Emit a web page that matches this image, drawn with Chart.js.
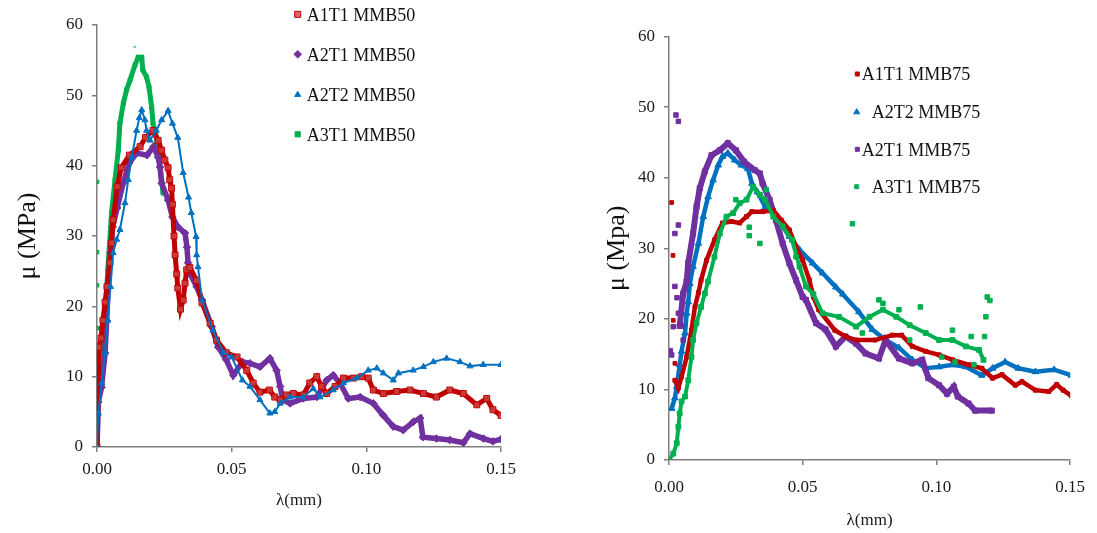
<!DOCTYPE html>
<html>
<head>
<meta charset="utf-8">
<script src="https://cdn.jsdelivr.net/npm/chart.js@4/dist/chart.umd.min.js"></script>
<style>
  body { margin: 0; background: #fff; }
  .panel { position: absolute; top: 0; }
</style>
</head>
<body>
<div class="panel" style="left:0"><canvas id="mmb50" width="560" height="533"></canvas></div>
<div class="panel" style="left:560px"><canvas id="mmb75" width="537" height="533"></canvas></div>
<script>
// axis ticks
const yTicks = [0, 10, 20, 30, 40, 50, 60];
const xTicks = [0, 0.05, 0.10, 0.15];

// ---- MMB50 (left) ----
const lam50_A1T1 = [0, 0.0007, 0.0015, 0.0022, 0.003, 0.0037, 0.0048, 0.0054, 0.006, 0.0075, 0.009, 0.012, 0.016, 0.018, 0.0208, 0.0227, 0.024, 0.0252, 0.0264, 0.027, 0.0277, 0.028, 0.0286, 0.029, 0.0296, 0.030, 0.031, 0.032, 0.0327, 0.0333, 0.0345, 0.037, 0.039, 0.042, 0.0444, 0.048, 0.052, 0.0556, 0.058, 0.0605, 0.064, 0.066, 0.068, 0.0704, 0.0729, 0.0766, 0.079, 0.0816, 0.0834, 0.0853, 0.0884, 0.0915, 0.0952, 0.0983, 0.1007, 0.1026, 0.1063, 0.1113, 0.1162, 0.1212, 0.126, 0.131, 0.136, 0.141, 0.1447, 0.147, 0.150];
const mu50_A1T1  = [0, 14.2, 15.5, 18, 20.6, 22.8, 26.2, 29, 32.3, 37, 39.7, 41.5, 42.7, 44, 45, 43.6, 42.2, 40.8, 39.7, 38, 36.8, 34.5, 30, 27.3, 24.6, 22.6, 19.6, 20.9, 23.3, 25.2, 25.5, 23.7, 20.5, 17.6, 15.2, 13.4, 12.8, 10.9, 9.1, 7.8, 8.1, 7.1, 6.7, 7.4, 7.6, 7.4, 9.1, 10, 8.6, 7.6, 8.6, 9.8, 9.8, 10, 9.8, 8.1, 7.6, 7.9, 8.1, 7.6, 7.1, 8.1, 7.6, 6, 6.9, 5.3, 4.5];

const lam50_A2T1 = [0, 0.0005, 0.0017, 0.003, 0.0036, 0.0041, 0.005, 0.0058, 0.0075, 0.0097, 0.012, 0.0147, 0.0185, 0.021, 0.0227, 0.0234, 0.024, 0.0264, 0.028, 0.030, 0.0327, 0.0334, 0.0338, 0.0345, 0.037, 0.039, 0.0426, 0.045, 0.048, 0.0506, 0.054, 0.0568, 0.0605, 0.0642, 0.0667, 0.068, 0.069, 0.0717, 0.0766, 0.0816, 0.0853, 0.0877, 0.0902, 0.0933, 0.0977, 0.1026, 0.1063, 0.110, 0.1137, 0.1175, 0.120, 0.121, 0.126, 0.131, 0.136, 0.1385, 0.1435, 0.147, 0.150];
const mu50_A2T1  = [0, 6.4, 8.5, 13.4, 18, 22.8, 27.6, 31.3, 34, 37.5, 40.4, 41.8, 41.5, 42.7, 41.2, 39.8, 37.5, 35.1, 32.7, 31.3, 30.4, 28.4, 26.2, 24.7, 22.8, 20.9, 17.1, 14.2, 12.4, 10.2, 12.1, 11.9, 11.4, 12.6, 10.9, 8.6, 6.7, 6.2, 6.9, 7.1, 9.5, 10.2, 9.1, 6.9, 7.1, 6.2, 4.5, 2.9, 2.4, 3.6, 4.1, 1.4, 1.2, 1, 0.6, 1.9, 1.2, 0.8, 1.1];

const lam50_A2T2 = [0, 0.0005, 0.0017, 0.003, 0.004, 0.005, 0.006, 0.0073, 0.0085, 0.0104, 0.0116, 0.0129, 0.0147, 0.0157, 0.0166, 0.0178, 0.0184, 0.0197, 0.022, 0.024, 0.0264, 0.028, 0.030, 0.032, 0.034, 0.035, 0.0368, 0.037, 0.0375, 0.039, 0.043, 0.047, 0.050, 0.054, 0.0568, 0.0605, 0.0642, 0.066, 0.068, 0.0717, 0.0766, 0.0803, 0.0828, 0.0877, 0.0915, 0.0964, 0.1007, 0.1039, 0.1063, 0.110, 0.1119, 0.1174, 0.1212, 0.1249, 0.1298, 0.1348, 0.1385, 0.1434, 0.150];
const mu50_A2T2  = [0, 4.8, 9.1, 13.4, 18, 22.8, 27.6, 29.5, 30.9, 34.7, 38, 41.2, 45, 46.8, 47.9, 46.5, 45, 43.6, 45, 46.5, 47.8, 46, 44, 39, 35.5, 33.3, 29.9, 27.3, 25.6, 20.9, 16.6, 13.4, 12.8, 9.5, 8.6, 6.7, 4.8, 5, 6.2, 7.1, 7.1, 8.3, 7.1, 8.1, 9.1, 9.8, 10.9, 11.2, 10.5, 9.5, 10.5, 10.9, 11.4, 12.1, 12.6, 12.1, 11.5, 11.7, 11.7];

const lam50_A3T1 = [0, 0.001, 0.002, 0.003, 0.004, 0.005, 0.0054, 0.0067, 0.0079, 0.0085, 0.0098, 0.011, 0.0123, 0.0141, 0.0153, 0.0166, 0.017, 0.0184, 0.0193, 0.0203, 0.0208, 0.022, 0.024, 0.0245];
const mu50_A3T1  = [7.5, 10, 12, 18, 25.2, 30.9, 33.3, 38, 42.2, 46, 48.9, 50.8, 52.2, 54.3, 55.4, 55.4, 53.6, 52.6, 51.2, 48.3, 46, 44.1, 38, 36.1];
const lam50_A3T1_loose = [0, 0, 0, 0.0005, 0];
const mu50_A3T1_loose  = [37.7, 27.7, 23, 16.9, 12];
const lam50_A3T1_faint = [0.014];
const mu50_A3T1_faint  = [56.9];

// ---- MMB75 (right) ----
const lam75_A1T1 = [0.0022, 0.0035, 0.0047, 0.0066, 0.0084, 0.0097, 0.011, 0.012, 0.014, 0.017, 0.020, 0.0233, 0.0264, 0.029, 0.031, 0.035, 0.039, 0.042, 0.045, 0.0475, 0.050, 0.0525, 0.054, 0.056, 0.062, 0.066, 0.070, 0.077, 0.0835, 0.087, 0.091, 0.096, 0.101, 0.106, 0.112, 0.117, 0.121, 0.1245, 0.1295, 0.132, 0.137, 0.142, 0.145, 0.1474, 0.1505];
const mu75_A1T1  = [11.3, 10.2, 11.8, 14.6, 18.4, 21.7, 23.7, 25.5, 28.3, 31.2, 33.6, 33.8, 33.6, 34.5, 35.2, 35.2, 35.4, 34, 32.6, 30.2, 28.3, 25.5, 23.1, 21.3, 18.4, 17.5, 17, 17, 17.7, 17.7, 16.1, 15.4, 14.9, 14.2, 13.5, 13, 11.6, 12.1, 10.6, 11.1, 9.9, 9.7, 10.7, 9.9, 9.1];
const lam75_A1T1_loose = [0.001, 0.0015, 0.0016, 0.0022];
const mu75_A1T1_loose  = [36.5, 29, 19.8, 13.7];

const lam75_A2T2 = [0.001, 0.0022, 0.0029, 0.004, 0.0047, 0.006, 0.0066, 0.0072, 0.0078, 0.009, 0.011, 0.0128, 0.0146, 0.0165, 0.0184, 0.020, 0.022, 0.0246, 0.027, 0.0295, 0.031, 0.033, 0.036, 0.040, 0.045, 0.0488, 0.0537, 0.0574, 0.0624, 0.065, 0.071, 0.076, 0.081, 0.086, 0.091, 0.096, 0.101, 0.106, 0.111, 0.117, 0.121, 0.1257, 0.1306, 0.137, 0.144, 0.1505];
const mu75_A2T2  = [7.3, 8.8, 10.4, 13.5, 15.4, 18, 20.8, 22.4, 25, 27.4, 30.7, 34.5, 37.3, 39.7, 41.8, 43, 43.5, 42.5, 41.8, 41.3, 39.2, 38, 35.9, 34.5, 31.7, 29.8, 27.9, 26.5, 24.5, 23.5, 21, 18.5, 17, 15.9, 14.2, 13, 13.2, 13.5, 13.2, 12, 13, 13.9, 13, 12.5, 12.8, 12];

const lam75_A2T1 = [0.004, 0.0053, 0.0066, 0.0072, 0.009, 0.0103, 0.0115, 0.0134, 0.0159, 0.019, 0.022, 0.025, 0.028, 0.032, 0.034, 0.035, 0.0376, 0.040, 0.0425, 0.045, 0.0475, 0.050, 0.0512, 0.055, 0.0585, 0.0624, 0.066, 0.070, 0.0735, 0.0785, 0.081, 0.086, 0.091, 0.0947, 0.097, 0.101, 0.104, 0.1065, 0.108, 0.112, 0.1145, 0.1207];
const mu75_A2T1  = [19, 23.6, 25.3, 27.9, 32.1, 35.9, 38.5, 40.9, 43.2, 43.9, 44.9, 43.9, 42.3, 41.1, 40.6, 39.2, 36.9, 34, 30.7, 27.9, 25.5, 23.1, 22.7, 19.4, 18.5, 16.1, 17.5, 16.5, 15.1, 14.4, 17, 14.4, 13.7, 14.2, 11.6, 10.6, 9.4, 10.4, 9, 8, 7, 7];
const lam75_A2T1_loose = [0.0026, 0.0035, 0.0035, 0.0022, 0.0022, 0.0016, 0.001, 0.0035, 0.0053, 0.0047, 0.0005, 0.003];
const mu75_A2T1_loose  = [48.9, 48, 33.3, 32.1, 24.6, 18.9, 14.9, 20.8, 17, 19, 15.5, 23];

const lam75_A3T1 = [0, 0.0016, 0.0029, 0.0035, 0.004, 0.0047, 0.006, 0.0072, 0.0084, 0.009, 0.0103, 0.012, 0.0134, 0.0146, 0.017, 0.019, 0.0215, 0.024, 0.0264, 0.029, 0.0314, 0.034, 0.036, 0.039, 0.0425, 0.046, 0.0488, 0.0512, 0.054, 0.0574, 0.0636, 0.070, 0.075, 0.080, 0.085, 0.090, 0.096, 0.101, 0.106, 0.111, 0.116, 0.1176];
const mu75_A3T1  = [0, 0.9, 2.4, 4.7, 6.6, 8.3, 9, 11.3, 14.6, 17, 19.4, 21.7, 23.6, 25.3, 28.8, 32.1, 34.5, 35, 36.4, 36.9, 38.7, 37.6, 36.9, 34.5, 33.1, 31.2, 27.4, 24.6, 23.5, 20.8, 20.3, 18.9, 20.3, 21.3, 20.3, 19.1, 18, 17, 17, 16.1, 15.6, 14.2];
const lam75_A3T1_loose = [0.030, 0.030, 0.025, 0.0364, 0.034, 0.0475, 0.0686, 0.0723, 0.0785, 0.08, 0.086, 0.09, 0.094, 0.102, 0.106, 0.107, 0.113, 0.114, 0.118, 0.1185, 0.119, 0.12];
const mu75_A3T1_loose  = [33, 31.8, 36.9, 38.3, 30.7, 28.8, 33.5, 18, 22.7, 22.2, 21.3, 17, 21.7, 14.6, 18.4, 13.9, 17.5, 13.5, 17.5, 20.3, 23.1, 22.6];

const RED = '#C00000', PURPLE = '#7030A0', BLUE = '#0070C0', GREEN = '#00B050';

function pts(xs, ys) {
  return xs.map((x, i) => ({ x: x, y: ys[i] }));
}

function series(xs, ys, color, style, radius, width, fill) {
  return {
    data: pts(xs, ys),
    showLine: width > 0,
    borderColor: color,
    borderWidth: width,
    pointStyle: style,
    pointRadius: radius,
    pointBackgroundColor: fill || color,
    pointBorderColor: color,
    pointBorderWidth: 1,
    tension: 0
  };
}

// marker used in the legends
function drawMark(ctx, style, x, y, r, fill, stroke) {
  ctx.fillStyle = fill;
  ctx.strokeStyle = stroke;
  ctx.lineWidth = 1;
  ctx.beginPath();
  if (style === 'rect') {
    ctx.rect(x - r, y - r, 2 * r, 2 * r);
  } else if (style === 'rectRot') {
    ctx.moveTo(x, y - r); ctx.lineTo(x + r, y); ctx.lineTo(x, y + r); ctx.lineTo(x - r, y);
    ctx.closePath();
  } else {
    ctx.moveTo(x, y - r); ctx.lineTo(x + r, y + r * 0.7); ctx.lineTo(x - r, y + r * 0.7);
    ctx.closePath();
  }
  ctx.fill();
  ctx.stroke();
}

const sideLegend = {
  id: 'sideLegend',
  afterDraw(chart, args, opts) {
    const ctx = chart.ctx;
    ctx.save();
    ctx.font = opts.font;
    ctx.textBaseline = 'middle';
    opts.items.forEach(it => {
      drawMark(ctx, it.style, it.mx, it.y, it.r, it.fill, it.stroke);
      ctx.fillStyle = '#111';
      ctx.fillText(it.text, it.tx, it.y + 1.5);
    });
    ctx.restore();
  }
};

function makeOptions(cfg) {
  const axisColor = '#7f7f7f';
  return {
    responsive: false,
    animation: false,
    layout: { padding: cfg.padding },
    plugins: {
      legend: { display: false },
      tooltip: { enabled: false },
      sideLegend: { font: cfg.legendFont, items: cfg.legend }
    },
    scales: {
      x: {
        type: 'linear',
        min: 0,
        max: 0.15,
        afterFit: s => { s.height = cfg.xHeight; },
        afterBuildTicks: s => { s.ticks = xTicks.map(v => ({ value: v })); },
        border: { color: axisColor, width: 1.5 },
        grid: { drawOnChartArea: false, drawTicks: true, tickLength: 5, color: axisColor, lineWidth: 1.5 },
        ticks: {
          padding: cfg.xTickPad,
          color: '#1a1a1a',
          font: { family: 'Liberation Serif', size: 17 },
          callback: v => Number(v).toFixed(2)
        },
        title: {
          display: true,
          text: 'λ(mm)',
          color: '#1a1a1a',
          font: { family: 'Liberation Serif', size: 17 },
          padding: { top: 0, bottom: cfg.xTitlePad }
        }
      },
      y: {
        min: 0,
        max: 60,
        afterFit: s => { s.width = cfg.yWidth; },
        afterBuildTicks: s => { s.ticks = yTicks.map(v => ({ value: v })); },
        border: { color: axisColor, width: 1.5 },
        grid: { drawOnChartArea: false, drawTicks: true, tickLength: 5, color: axisColor, lineWidth: 1.5 },
        ticks: {
          padding: 9,
          color: '#1a1a1a',
          font: { family: 'Liberation Serif', size: 17 }
        },
        title: {
          display: true,
          text: cfg.yTitle,
          color: '#111',
          font: { family: 'Liberation Serif', size: 26 },
          padding: { top: cfg.yTitlePad, bottom: 0 }
        }
      }
    }
  };
}

// 左图 MMB50
new Chart(document.getElementById('mmb50'), {
  type: 'scatter',
  data: {
    datasets: [
      series(lam50_A2T2, mu50_A2T2, BLUE, 'triangle', 3.5, 2),
      series(lam50_A1T1, mu50_A1T1, RED, 'rect', 4.2, 5, 'rgba(205,70,70,0.8)'),
      series(lam50_A2T1, mu50_A2T1, PURPLE, 'rectRot', 3.8, 5.5),
      series(lam50_A3T1, mu50_A3T1, GREEN, 'rect', 2.8, 5),
      series(lam50_A3T1_loose, mu50_A3T1_loose, GREEN, 'rect', 2.6, 0),
      series(lam50_A3T1_faint, mu50_A3T1_faint, 'rgba(0,176,80,0.4)', 'rect', 1.2, 0)
    ]
  },
  options: makeOptions({
    padding: { top: 25, right: 59, left: 0, bottom: 0 },
    yWidth: 97, xHeight: 86, xTickPad: 7, xTitlePad: 22, yTitlePad: 13,
    yTitle: 'μ (MPa)',
    legendFont: '18px "Liberation Serif"',
    legend: [
      { text: 'A1T1 MMB50', mx: 297.7, tx: 306.7, y: 14.3, style: 'rect', r: 3, fill: 'rgba(205,70,70,0.8)', stroke: RED },
      { text: 'A2T1 MMB50', mx: 297.7, tx: 306.7, y: 54.3, style: 'rectRot', r: 3.8, fill: PURPLE, stroke: PURPLE },
      { text: 'A2T2 MMB50', mx: 297.7, tx: 306.7, y: 94.3, style: 'triangle', r: 3, fill: BLUE, stroke: BLUE },
      { text: 'A3T1 MMB50', mx: 297.7, tx: 306.7, y: 134.3, style: 'rect', r: 2.6, fill: GREEN, stroke: GREEN }
    ]
  }),
  plugins: [sideLegend]
});

// 右图 MMB75
new Chart(document.getElementById('mmb75'), {
  type: 'scatter',
  data: {
    datasets: [
      series(lam75_A3T1, mu75_A3T1, GREEN, 'rect', 3.4, 4),
      series(lam75_A3T1_loose, mu75_A3T1_loose, GREEN, 'rect', 3.2, 0),
      series(lam75_A1T1, mu75_A1T1, RED, 'rect', 2.8, 4.5),
      series(lam75_A1T1_loose, mu75_A1T1_loose, RED, 'rect', 2.6, 0),
      series(lam75_A2T1, mu75_A2T1, PURPLE, 'rect', 3.6, 6),
      series(lam75_A2T1_loose, mu75_A2T1_loose, PURPLE, 'rect', 3.2, 0),
      series(lam75_A2T2, mu75_A2T2, BLUE, 'triangle', 3.8, 4.5)
    ]
  },
  options: makeOptions({
    padding: { top: 36.7, right: 25, left: 0, bottom: 0 },
    yWidth: 109, xHeight: 73, xTickPad: 12, xTitlePad: 2, yTitlePad: 42,
    yTitle: 'μ (Mpa)',
    legendFont: '18px "Liberation Serif"',
    legend: [
      { text: 'A1T1 MMB75', mx: 297.3, tx: 301.7, y: 74, style: 'rect', r: 2, fill: RED, stroke: RED },
      { text: 'A2T2 MMB75', mx: 296.7, tx: 311.7, y: 111.7, style: 'triangle', r: 3, fill: BLUE, stroke: BLUE },
      { text: 'A2T1 MMB75', mx: 297.3, tx: 301.7, y: 149.3, style: 'rect', r: 2, fill: PURPLE, stroke: PURPLE },
      { text: 'A3T1 MMB75', mx: 296.7, tx: 311.7, y: 186.7, style: 'rect', r: 2, fill: GREEN, stroke: GREEN }
    ]
  }),
  plugins: [sideLegend]
});
</script>
</body>
</html>
